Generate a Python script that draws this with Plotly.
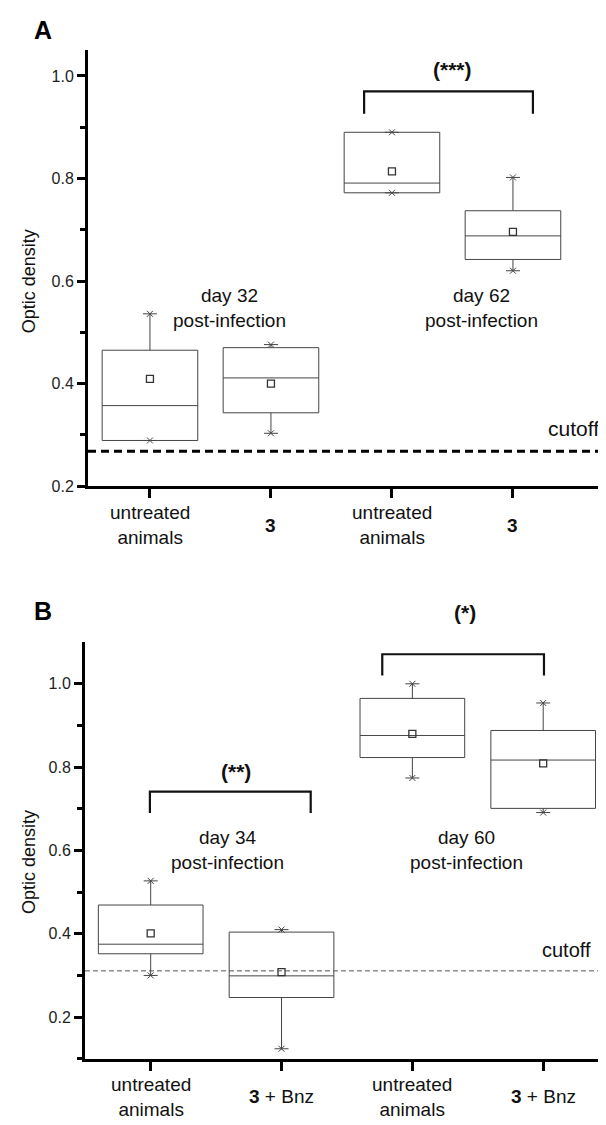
import plotly.graph_objects as go

# ---------------- data ----------------
positions = [1, 2, 3, 4]
labels_A = ["untreated<br>animals", "<b>3</b>", "untreated<br>animals", "<b>3</b>"]
labels_B = ["untreated<br>animals", "<b>3</b> + Bnz", "untreated<br>animals", "<b>3</b> + Bnz"]

A_q1 = [0.289, 0.343, 0.772, 0.642]
A_median = [0.357, 0.411, 0.791, 0.688]
A_q3 = [0.465, 0.470, 0.890, 0.737]
A_min = [0.289, 0.303, 0.772, 0.620]
A_max = [0.536, 0.476, 0.890, 0.802]
A_mean = [0.409, 0.400, 0.814, 0.696]
A_cutoff = 0.268

B_q1 = [0.352, 0.247, 0.823, 0.701]
B_median = [0.375, 0.299, 0.876, 0.817]
B_q3 = [0.469, 0.404, 0.965, 0.888]
B_min = [0.300, 0.124, 0.774, 0.691]
B_max = [0.527, 0.410, 1.000, 0.954]
B_mean = [0.401, 0.308, 0.880, 0.809]
B_cutoff = 0.311

A_groups = ["day 32<br>post-infection", "day 62<br>post-infection"]
A_group_x = [1.66, 3.74]
A_group_y = 0.548
B_groups = ["day 34<br>post-infection", "day 60<br>post-infection"]
B_group_x = [1.59, 3.41]
B_group_y = 0.600

# significance brackets: [left, right], bottom, top, label, label position
A_br_x = [[2.77, 4.165]]
A_br_bottom = [0.926]
A_br_top = [0.970]
A_br_label = ["(***)"]
A_br_label_xy = [(3.50, 1.013)]

B_br_x = [[0.994, 2.223], [2.77, 4.006]]
B_br_bottom = [0.690, 1.020]
B_br_top = [0.741, 1.071]
B_br_label = ["(**)", "(*)"]
B_br_label_xy = [(1.65, 0.790), (3.40, 1.170)]

y_ticks = [0.2, 0.4, 0.6, 0.8, 1.0]
y_minor = [0.1, 0.3, 0.5, 0.7, 0.9]

A_yrange = [0.2, 1.05]
B_yrange = [0.1, 1.1]
A_xrange = [0.488, 4.769]
B_xrange = [0.498, 4.48]

# ---------------- layout geometry (reference pixels) ----------------
FONT = "Arial, Liberation Sans, sans-serif"
BOXC = "#454545"
TXT = "#111111"
OFF = 8                      # default body margin of the html page
W, H = 606 - OFF, 1125 - OFF


def px(xp):
    return (xp - OFF) / W


def py(yp):
    return 1 - (yp - OFF) / H


fig = go.Figure()


def add_panel(xa, ya, q1, med, q3, lo, hi, mean, width):
    fig.add_trace(go.Box(
        x=positions, q1=q1, median=med, q3=q3, lowerfence=lo, upperfence=hi,
        width=width, whiskerwidth=0, boxpoints=False,
        line=dict(color=BOXC, width=1), fillcolor="rgba(0,0,0,0)",
        xaxis=xa, yaxis=ya, showlegend=False, hoverinfo="skip"))
    fig.add_trace(go.Scatter(
        x=positions, y=mean, mode="markers", xaxis=xa, yaxis=ya,
        marker=dict(symbol="square-open", size=7, color="#333333", line=dict(width=1.3)),
        showlegend=False, hoverinfo="skip"))
    # min / max markers: small "x" crossed by a horizontal bar
    fig.add_trace(go.Scatter(
        x=positions + positions, y=lo + hi, mode="markers", xaxis=xa, yaxis=ya,
        marker=dict(symbol="x-thin-open", size=6, color="#444444", line=dict(width=1)),
        showlegend=False, hoverinfo="skip"))
    fig.add_trace(go.Scatter(
        x=positions + positions, y=lo + hi, mode="markers", xaxis=xa, yaxis=ya,
        marker=dict(symbol="line-ew-open", size=10, color="#444444", line=dict(width=1)),
        showlegend=False, hoverinfo="skip"))


add_panel("x", "y", A_q1, A_median, A_q3, A_min, A_max, A_mean, 0.79)
add_panel("x2", "y2", B_q1, B_median, B_q3, B_min, B_max, B_mean, 0.80)


def add_brackets(xa, ya, bx, bb, bt):
    for (x0, x1), b, t in zip(bx, bb, bt):
        fig.add_trace(go.Scatter(
            x=[x0, x0, x1, x1], y=[b, t, t, b], mode="lines", xaxis=xa, yaxis=ya,
            line=dict(color="#111111", width=2.2), showlegend=False, hoverinfo="skip",
            cliponaxis=False))


add_brackets("x", "y", A_br_x, A_br_bottom, A_br_top)
add_brackets("x2", "y2", B_br_x, B_br_bottom, B_br_top)

shapes = [
    dict(type="line", xref="x domain", yref="y", x0=0, x1=1, y0=A_cutoff, y1=A_cutoff,
         line=dict(color="#000000", width=3, dash="8px,5px")),
    dict(type="line", xref="x2 domain", yref="y2", x0=0, x1=1, y0=B_cutoff, y1=B_cutoff,
         line=dict(color="#555555", width=1, dash="5px,3px")),
]


def dom(v, rng):
    return (v - rng[0]) / (rng[1] - rng[0])


ann = []
# category labels
for p, t in zip(positions, labels_A):
    ann.append(dict(x=p, xref="x", y=0, yref="y domain", xanchor="center", yanchor="middle",
                    yshift=-39, text=t, showarrow=False,
                    font=dict(size=19, color=TXT, family=FONT)))
for p, t in zip(positions, labels_B):
    ann.append(dict(x=p, xref="x2", y=0, yref="y2 domain", xanchor="center", yanchor="middle",
                    yshift=-38, text=t, showarrow=False,
                    font=dict(size=19, color=TXT, family=FONT)))
# group labels
for gx, t in zip(A_group_x, A_groups):
    ann.append(dict(x=gx, xref="x", y=dom(A_group_y, A_yrange), yref="y domain", text=t,
                    xanchor="center", yanchor="middle", showarrow=False,
                    font=dict(size=19, color=TXT, family=FONT)))
for gx, t in zip(B_group_x, B_groups):
    ann.append(dict(x=gx, xref="x2", y=dom(B_group_y, B_yrange), yref="y2 domain", text=t,
                    xanchor="center", yanchor="middle", showarrow=False,
                    font=dict(size=19, color=TXT, family=FONT)))
# significance labels
for (lx, ly), t in zip(A_br_label_xy, A_br_label):
    ann.append(dict(x=lx, xref="x", y=dom(ly, A_yrange), yref="y domain",
                    text="<b>" + t + "</b>", xanchor="center", yanchor="middle",
                    showarrow=False, font=dict(size=21, color=TXT, family=FONT)))
for (lx, ly), t in zip(B_br_label_xy, B_br_label):
    ann.append(dict(x=lx, xref="x2", y=dom(ly, B_yrange), yref="y2 domain",
                    text="<b>" + t + "</b>", xanchor="center", yanchor="middle",
                    showarrow=False, font=dict(size=21, color=TXT, family=FONT)))
# cutoff labels
ann.append(dict(x=4.50, xref="x", y=dom(0.312, A_yrange), yref="y domain", text="cutoff",
                xanchor="center", yanchor="middle", showarrow=False,
                font=dict(size=21, color=TXT, family=FONT)))
ann.append(dict(x=4.175, xref="x2", y=dom(0.360, B_yrange), yref="y2 domain", text="cutoff",
                xanchor="center", yanchor="middle", showarrow=False,
                font=dict(size=20, color=TXT, family=FONT)))
# y titles
ann.append(dict(x=px(29), xref="paper", y=py(283.5), yref="paper", text="Optic density",
                xanchor="center", yanchor="middle", textangle=-90, showarrow=False,
                font=dict(size=18, color=TXT, family=FONT)))
ann.append(dict(x=px(29), xref="paper", y=py(869), yref="paper", text="Optic density",
                xanchor="center", yanchor="middle", textangle=-90, showarrow=False,
                font=dict(size=18, color=TXT, family=FONT)))
# panel letters
ann.append(dict(x=px(42.5), xref="paper", y=py(30), yref="paper", text="<b>A</b>",
                xanchor="center", yanchor="middle", showarrow=False,
                font=dict(size=25, color="#000", family=FONT)))
ann.append(dict(x=px(43), xref="paper", y=py(616), yref="paper", text="<b>B</b>",
                xanchor="center", yanchor="middle", showarrow=False,
                font=dict(size=25, color="#000", family=FONT)))

xcommon = dict(showline=True, linewidth=3, linecolor="#000", ticks="outside", ticklen=9,
               tickwidth=2.5, tickcolor="#000", tickvals=positions, showticklabels=False,
               showgrid=False, zeroline=False, fixedrange=True)
ycommon = dict(showline=True, linewidth=3, linecolor="#000", ticks="outside", ticklen=8,
               tickwidth=2.5, tickcolor="#000", tickvals=y_ticks,
               ticktext=[f"{v:.1f}" for v in y_ticks],
               tickfont=dict(size=16, color="#222", family=FONT),
               minor=dict(tickvals=y_minor, ticks="outside", ticklen=5, tickwidth=2.5,
                          tickcolor="#000"),
               showgrid=False, zeroline=False, fixedrange=True)

fig.update_layout(
    width=W, height=H, autosize=False,
    margin=dict(l=0, r=0, t=0, b=0),
    paper_bgcolor="white", plot_bgcolor="white",
    font=dict(family=FONT, color=TXT),
    xaxis=dict(domain=[px(88), 1], range=A_xrange, anchor="y", **xcommon),
    yaxis=dict(domain=[py(490), py(50.6)], range=A_yrange, anchor="x", **ycommon),
    xaxis2=dict(domain=[px(85), 1], range=B_xrange, anchor="y2", **xcommon),
    yaxis2=dict(domain=[py(1067.3), py(647.3)], range=B_yrange, anchor="x2", **ycommon),
    shapes=shapes, annotations=ann, showlegend=False,
)

fig.write_html("out.html")
